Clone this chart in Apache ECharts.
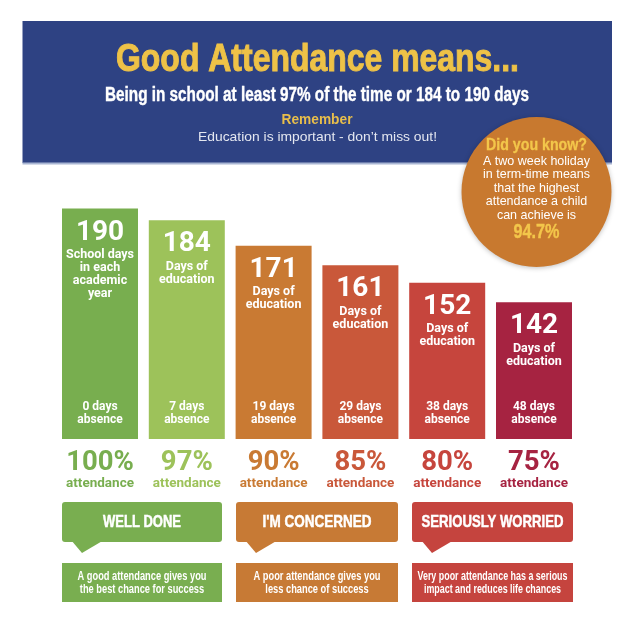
<!DOCTYPE html>
<html><head><meta charset="utf-8">
<script src="https://cdn.jsdelivr.net/npm/echarts@6/dist/echarts.min.js"></script>
<style>html,body{margin:0;padding:0;background:#fff}#c{width:632px;height:626px}</style>
</head><body><div id="c"></div>
<script>
const categories = ['100%', '97%', '90%', '85%', '80%', '75%'];
const schoolDays = [190, 184, 171, 161, 152, 142];
const absenceDays = [0, 7, 19, 29, 38, 48];
const descriptions = ['School days\nin each\nacademic\nyear', 'Days of\neducation', 'Days of\neducation', 'Days of\neducation', 'Days of\neducation', 'Days of\neducation'];
const barColors = ['#78ae4f', '#9dc25a', '#c97a33', '#c9583a', '#c6453d', '#a62341'];
const verdicts = ['WELL DONE', "I'M CONCERNED", 'SERIOUSLY WORRIED'];
const verdictNotes = [['A good attendance gives you', 'the best chance for success'], ['A poor attendance gives you', 'less chance of success'], ['Very poor attendance has a serious', 'impact and reduces life chances']];
const verdictColors = ['#79ae50', '#c77a35', '#c5443e'];
const circleLines = ['A two week holiday', 'in term-time means', 'that the highest', 'attendance a child', 'can achieve is'];

const LBL = 'Roboto, "Liberation Sans", Arial, sans-serif';
const SANS = '"Liberation Sans", Arial, sans-serif';

const mctx = document.createElement('canvas').getContext('2d');
function measure(text, size, weight, family) {
  mctx.font = weight + ' ' + size + 'px ' + family;
  return mctx.measureText(text).width;
}
function txt(text, x, y, size, weight, family, fill, scale, strokeW) {
  const style = { text: text, align: 'center', verticalAlign: 'middle', fontSize: size, fontWeight: weight, fontFamily: family, fill: fill };
  if (strokeW) { style.stroke = fill; style.lineWidth = strokeW; }
  return { type: 'text', x: x, y: y, scaleX: scale || 1, z: 5, style: style };
}
function fitTxt(text, x, y, size, weight, family, fill, targetW, strokeW) {
  return txt(text, x, y, size, weight, family, fill, targetW / measure(text, size, weight, family), strokeW);
}

const rich = {};
barColors.forEach((c, i) => {
  rich['p' + i] = { color: c, fontSize: 27.5, fontWeight: 'bold', fontFamily: LBL, lineHeight: 28 };
  rich['a' + i] = { color: c, fontSize: 13.5, fontWeight: 'bold', fontFamily: LBL, lineHeight: 14 };
});

const graphics = [];
graphics.push({ type: 'rect', shape: { x: 22.5, y: 21, width: 589.5, height: 142 }, style: { fill: '#2e4283' }, z: 1 });
graphics.push({ type: 'rect', shape: { x: 22.5, y: 162.5, width: 589.5, height: 2 }, style: { fill: '#a9b6d3' }, z: 1 });
graphics.push(fitTxt('Good Attendance means...', 317.5, 60, 39, 'bold', SANS, '#eec247', 403, 1));
graphics.push(fitTxt('Being in school at least 97% of the time or 184 to 190 days', 317, 95, 20, 'bold', SANS, '#ffffff', 424, 0.4));
graphics.push(fitTxt('Remember', 317, 120, 15, 'bold', SANS, '#e8be4b', 71));
graphics.push(fitTxt('Education is important - don\u2019t miss out!', 317.5, 137.5, 13.5, 'normal', SANS, '#e4e7f0', 239));

// circle
const CX = 536.5;
graphics.push({ type: 'circle', shape: { cx: CX, cy: 192, r: 75 }, style: { fill: '#c8792f', shadowBlur: 5, shadowColor: 'rgba(0,0,0,0.25)', shadowOffsetY: 1 }, z: 3 });
graphics.push(fitTxt('Did you know?', CX, 146, 16, 'bold', SANS, '#f3c64a', 101, 0.3));
const cScale = 107 / measure(circleLines[0], 13, 'normal', SANS);
circleLines.forEach((l, i) => graphics.push(txt(l, CX, 161 + i * 13.6, 13, 'normal', SANS, '#ffffff', cScale)));
graphics.push(fitTxt('94.7%', CX, 232, 21, 'bold', SANS, '#f3c64a', 46, 0.4));

// verdict boxes
const boxLeft = [62, 236, 412];
const boxRight = [222, 398, 573];
const verdictW = [78, 109, 142];
const noteW = [129, 127, 150];
for (let i = 0; i < 3; i++) {
  const l = boxLeft[i], r = boxRight[i], cx = (l + r) / 2, col = verdictColors[i];
  graphics.push({ type: 'rect', shape: { x: l, y: 502, width: r - l, height: 40, r: 3 }, style: { fill: col }, z: 3 });
  graphics.push({ type: 'polygon', shape: { points: [[l + 9, 540], [l + 20, 553], [l + 42, 540]] }, style: { fill: col }, z: 3 });
  graphics.push(fitTxt(verdicts[i], cx, 522, 16.5, 'bold', SANS, '#ffffff', verdictW[i], 0.5));
  graphics.push({ type: 'rect', shape: { x: l, y: 563, width: r - l, height: 39 }, style: { fill: col }, z: 3 });
  const s = noteW[i] / measure(verdictNotes[i][0], 12, 'bold', SANS);
  graphics.push(txt(verdictNotes[i][0], cx, 577, 12, 'bold', SANS, '#ffffff', s));
  graphics.push(txt(verdictNotes[i][1], cx, 589.5, 12, 'bold', SANS, '#ffffff', s));
}

const chart = echarts.init(document.getElementById('c'), null, { renderer: 'canvas' });
chart.setOption({
  animation: false,
  backgroundColor: '#ffffff',
  grid: { left: 56.6, width: 520.8, top: 189, height: 250 },
  xAxis: {
    type: 'category',
    data: categories,
    axisLine: { show: false },
    axisTick: { show: false },
    axisLabel: {
      margin: 10,
      interval: 0,
      formatter: (v, i) => '{p' + i + '|' + v + '}\n{a' + i + '|attendance}',
      rich: rich
    }
  },
  yAxis: { type: 'value', min: 72, max: 200, show: false, splitLine: { show: false } },
  graphic: graphics,
  series: [
    {
      type: 'bar',
      data: schoolDays,
      barWidth: 76,
      itemStyle: { color: p => barColors[p.dataIndex] },
      label: {
        show: true,
        position: 'insideTop',
        distance: 8,
        formatter: p => '{n|' + p.value + '}\n{d|' + descriptions[p.dataIndex] + '}',
        rich: {
          n: { color: '#fff', fontSize: 28, fontWeight: 'bold', fontFamily: LBL, lineHeight: 32 },
          d: { color: '#fff', fontSize: 12.5, fontWeight: 'bold', fontFamily: LBL, lineHeight: 13 }
        }
      }
    },
    {
      type: 'bar',
      data: schoolDays,
      barWidth: 76,
      barGap: '-100%',
      silent: true,
      itemStyle: { color: 'rgba(0,0,0,0)' },
      label: {
        show: true,
        position: 'insideBottom',
        distance: 13,
        color: '#fff',
        fontSize: 12,
        fontWeight: 'bold',
        fontFamily: LBL,
        lineHeight: 12.5,
        formatter: p => absenceDays[p.dataIndex] + ' days\nabsence'
      }
    }
  ]
});
</script></body></html>
